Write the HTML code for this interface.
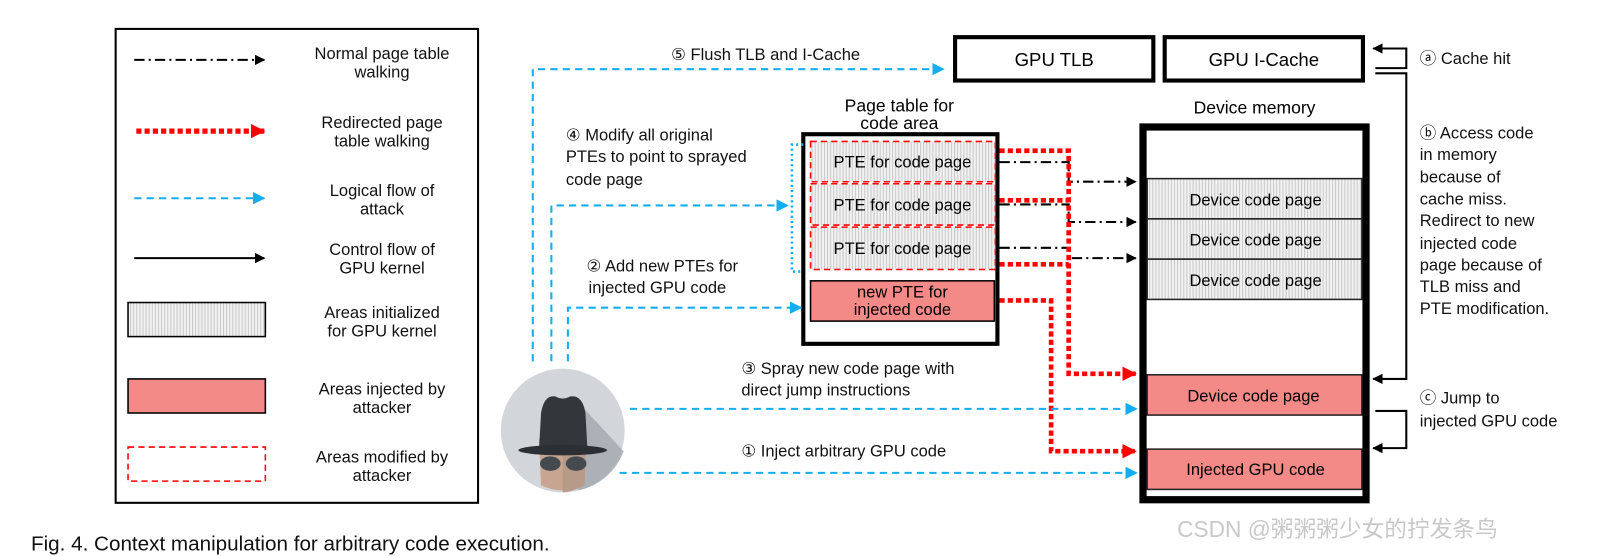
<!DOCTYPE html>
<html><head><meta charset="utf-8"><style>
html,body{margin:0;padding:0;background:#fff;}
svg{display:block;font-family:"Liberation Sans","NanumGothic",sans-serif;}
</style></head><body>
<svg width="1619" height="556" viewBox="0 0 1568 538.5" preserveAspectRatio="none" xmlns="http://www.w3.org/2000/svg">
<defs>
<pattern id="h" width="3" height="10" patternUnits="userSpaceOnUse">
<rect width="3" height="10" fill="#f2f2f2"/><rect width="1" height="10" fill="#c8c8c8"/>
</pattern>
<marker id="ab" markerWidth="10" markerHeight="10" refX="9" refY="5" orient="auto" markerUnits="userSpaceOnUse"><path d="M0,0 L10,5 L0,10z" fill="#000"/></marker>
<marker id="ar" markerWidth="14" markerHeight="14" refX="13" refY="7" orient="auto" markerUnits="userSpaceOnUse"><path d="M0,0 L14,7 L0,14z" fill="#f00"/></marker>
<marker id="au" markerWidth="12" markerHeight="12" refX="11" refY="6" orient="auto" markerUnits="userSpaceOnUse"><path d="M0,0 L12,6 L0,12z" fill="#14aef0"/></marker>
</defs>

<!-- Legend -->
<rect x="112" y="28" width="351" height="459" fill="#fff" stroke="#000" stroke-width="2"/>
<g font-size="16" text-anchor="middle" fill="#111">
<line x1="130" y1="58" x2="256" y2="58" stroke="#000" stroke-width="2" stroke-dasharray="10,4,2,4" marker-end="url(#ab)"/>
<text x="370" y="57">Normal page table</text><text x="370" y="75">walking</text>
<line x1="132" y1="127" x2="256" y2="127" stroke="#f00" stroke-width="5" stroke-dasharray="5,3" marker-end="url(#ar)"/>
<text x="370" y="124">Redirected page</text><text x="370" y="142">table walking</text>
<line x1="130" y1="192" x2="256" y2="192" stroke="#14aef0" stroke-width="2" stroke-dasharray="7,5" marker-end="url(#au)"/>
<text x="370" y="190">Logical flow of</text><text x="370" y="208">attack</text>
<line x1="130" y1="250" x2="256" y2="250" stroke="#000" stroke-width="2" marker-end="url(#ab)"/>
<text x="370" y="247">Control flow of</text><text x="370" y="265">GPU kernel</text>
<rect x="124" y="293" width="133" height="33" fill="url(#h)" stroke="#000" stroke-width="1.5"/>
<text x="370" y="308">Areas initialized</text><text x="370" y="326">for GPU kernel</text>
<rect x="124" y="367" width="133" height="33" fill="#f48a87" stroke="#000" stroke-width="1.5"/>
<text x="370" y="382">Areas injected by</text><text x="370" y="400">attacker</text>
<rect x="124" y="433" width="133" height="33" fill="none" stroke="#f00" stroke-width="1.5" stroke-dasharray="6,4"/>
<text x="370" y="448">Areas modified by</text><text x="370" y="466">attacker</text>
</g>

<text x="30" y="533" font-size="20" fill="#111">Fig. 4. Context manipulation for arbitrary code execution.</text>

<!-- TLB / I-Cache -->
<rect x="925" y="36" width="192" height="42" fill="#fff" stroke="#000" stroke-width="4"/>
<text x="1021" y="64" font-size="18" text-anchor="middle">GPU TLB</text>
<rect x="1128" y="36" width="192" height="42" fill="#fff" stroke="#000" stroke-width="4"/>
<text x="1224" y="64" font-size="18" text-anchor="middle">GPU I-Cache</text>

<!-- Page table -->
<text x="871" y="108" font-size="17" text-anchor="middle">Page table for</text>
<text x="871" y="125" font-size="17" text-anchor="middle">code area</text>
<rect x="778" y="130" width="188" height="203" fill="#fff" stroke="#000" stroke-width="4"/>
<g font-size="16" text-anchor="middle">
<rect x="785" y="137" width="179" height="39" fill="url(#h)" stroke="#f00" stroke-width="1.5" stroke-dasharray="6,4"/>
<text x="874" y="162">PTE for code page</text>
<rect x="785" y="178" width="179" height="40" fill="url(#h)" stroke="#f00" stroke-width="1.5" stroke-dasharray="6,4"/>
<text x="874" y="204">PTE for code page</text>
<rect x="785" y="220" width="179" height="41" fill="url(#h)" stroke="#f00" stroke-width="1.5" stroke-dasharray="6,4"/>
<text x="874" y="246">PTE for code page</text>
<rect x="785" y="272" width="178" height="39" fill="#f48a87" stroke="#000" stroke-width="1.5"/>
<text x="874" y="288">new PTE for</text><text x="874" y="305">injected code</text>
</g>
<path d="M778,140 H767 V263 H778" fill="none" stroke="#14aef0" stroke-width="2.5" stroke-dasharray="2,3"/>

<!-- Device memory -->
<text x="1215" y="110" font-size="17" text-anchor="middle">Device memory</text>
<rect x="1107" y="123" width="216" height="361" fill="#fff" stroke="#000" stroke-width="7"/>
<g font-size="16" text-anchor="middle">
<rect x="1111" y="173" width="208" height="39" fill="url(#h)" stroke="#222" stroke-width="1.5"/>
<text x="1216" y="199">Device code page</text>
<rect x="1111" y="212" width="208" height="39" fill="url(#h)" stroke="#222" stroke-width="1.5"/>
<text x="1216" y="238">Device code page</text>
<rect x="1111" y="251" width="208" height="39" fill="url(#h)" stroke="#222" stroke-width="1.5"/>
<text x="1216" y="277">Device code page</text>
<rect x="1111" y="363" width="208" height="39" fill="#f48a87" stroke="#222" stroke-width="1.5"/>
<text x="1214" y="389">Device code page</text>
<rect x="1111" y="435" width="208" height="39" fill="#f48a87" stroke="#222" stroke-width="1.5"/>
<text x="1216" y="460">Injected GPU code</text>
</g>

<!-- dash-dot -->
<g fill="none" stroke="#000" stroke-width="2" stroke-dasharray="10,4,2,4">
<path d="M968,157 H1035 V176 H1100" marker-end="url(#ab)"/>
<path d="M968,198 H1035 V215 H1100" marker-end="url(#ab)"/>
<path d="M968,240 H1035 V250 H1100" marker-end="url(#ab)"/>
</g>
<!-- red dotted -->
<g fill="none" stroke="#f00" stroke-width="4.5" stroke-dasharray="5,3">
<path d="M968,146 H1035 V362 H1100" marker-end="url(#ar)"/>
<path d="M968,194 H1035"/>
<path d="M968,256 H1035"/>
<path d="M968,291 H1018 V437 H1100" marker-end="url(#ar)"/>
</g>

<!-- blue dashed -->
<g fill="none" stroke="#14aef0" stroke-width="2" stroke-dasharray="7,5">
<path d="M516,350 V67 H914" marker-end="url(#au)"/>
<path d="M534,350 V199 H763" marker-end="url(#au)"/>
<path d="M550,350 V298 H776" marker-end="url(#au)"/>
<path d="M610,396 H1101" marker-end="url(#au)"/>
<path d="M600,458 H1101" marker-end="url(#au)"/>
</g>
<g font-size="16" fill="#111">
<text x="650" y="58">⑤ Flush TLB and I-Cache</text>
<text x="548" y="136">④ Modify all original</text>
<text x="548" y="157">PTEs to point to sprayed</text>
<text x="548" y="179">code page</text>
<text x="568" y="263">② Add new PTEs for</text>
<text x="570" y="284">injected GPU code</text>
<text x="718" y="362">③ Spray new code page with</text>
<text x="718" y="383">direct jump instructions</text>
<text x="718" y="442">① Inject arbitrary GPU code</text>
</g>

<!-- avatar -->
<circle cx="545" cy="417" r="60" fill="#d2d6da"/>
<path d="M565,395 L604,437 A60,60 0 0 1 560,475 L560,440 Z" fill="#a5aab0" opacity="0.85"/>
<path d="M522,425 H568 L566,470 Q545,480 524,470 Z" fill="#c8a590"/>
<path d="M545,425 H568 L566,470 Q556,476 545,477 Z" fill="#b89a88"/>
<ellipse cx="533" cy="449" rx="10" ry="7" fill="#444a50"/>
<ellipse cx="558" cy="449" rx="10" ry="7" fill="#444a50"/>
<path d="M522,436 L524,400 Q527,382 538,384 Q545,388 552,384 Q564,382 567,400 L569,436 Z" fill="#33373b"/>
<ellipse cx="545" cy="436" rx="43" ry="5" fill="#2c3034"/>

<!-- right side solid arrows -->
<g fill="none" stroke="#000" stroke-width="2">
<path d="M1332,66 H1362 V47 H1330" marker-end="url(#ab)"/>
<path d="M1332,71 H1362 V367 H1330" marker-end="url(#ab)"/>
<path d="M1332,398 H1362 V434 H1330" marker-end="url(#ab)"/>
</g>
<g font-size="16" fill="#111">
<text x="1375" y="62">ⓐ Cache hit</text>
<text x="1375" y="134">ⓑ Access code</text>
<text x="1375" y="155">in memory</text>
<text x="1375" y="177">because of</text>
<text x="1375" y="198">cache miss.</text>
<text x="1375" y="219">Redirect to new</text>
<text x="1375" y="241">injected code</text>
<text x="1375" y="262">page because of</text>
<text x="1375" y="283">TLB miss and</text>
<text x="1375" y="304">PTE modification.</text>
<text x="1375" y="391">ⓒ Jump to</text>
<text x="1375" y="413">injected GPU code</text>
</g>

<text x="1140" y="520" font-size="22" fill="#c8c8c8" font-family="'Liberation Sans','Noto Sans CJK SC',sans-serif">CSDN @粥粥粥少女的拧发条鸟</text>
</svg>
</body></html>
